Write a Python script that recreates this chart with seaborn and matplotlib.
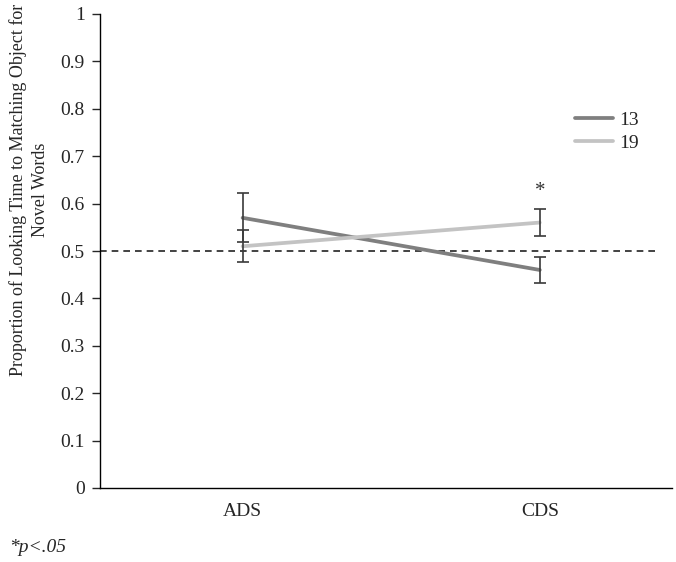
import numpy as np
import pandas as pd
import matplotlib
matplotlib.use("Agg")
import matplotlib.pyplot as plt
import seaborn as sns

# values
conditions = ["ADS", "CDS"]
age_groups = ["13", "19"]
means_13 = [0.57, 0.46]
means_19 = [0.51, 0.56]
err_13 = [0.052, 0.027]
err_19 = [0.034, 0.028]
y_ticks = [0, 0.1, 0.2, 0.3, 0.4, 0.5, 0.6, 0.7, 0.8, 0.9, 1]
y_tick_labels = ["0", "0.1", "0.2", "0.3", "0.4", "0.5", "0.6", "0.7", "0.8", "0.9", "1"]

df = pd.DataFrame({
    "Condition": conditions * 2,
    "x": [0, 1] * 2,
    "Age": ["13"] * 2 + ["19"] * 2,
    "Proportion": means_13 + means_19,
    "err": err_13 + err_19,
})

sns.set_style("ticks")
plt.rcParams["font.family"] = ["Liberation Serif", "DejaVu Serif"]
plt.rcParams["font.size"] = 13

fig = plt.figure(figsize=(6.76, 5.62), dpi=100)
ax = fig.add_axes([100 / 676, 74 / 562, 572 / 676, 474 / 562])

palette = {"13": "#7f7f7f", "19": "#c3c3c3"}
sns.lineplot(data=df, x="x", y="Proportion", hue="Age", hue_order=age_groups,
             palette=palette, linewidth=2.7, ax=ax, legend=True)

for age in age_groups:
    sub = df[df["Age"] == age]
    ax.errorbar(sub["x"], sub["Proportion"], yerr=sub["err"], fmt="none",
                ecolor="#3a3a3a", elinewidth=1.2, capsize=4, capthick=1.2, zorder=3)

# chance line
ax.plot([-0.48, 1.39], [0.5, 0.5], linestyle=(0, (4, 3)), color="#222222", linewidth=1.2, zorder=1)

# significance marker
ax.text(1, 0.605, "*", ha="center", va="bottom", fontsize=15, color="#333333")

ax.set_xlim(-0.48, 1.445)
ax.set_ylim(0, 1)
ax.set_xticks([0, 1])
ax.set_xticklabels(conditions)
ax.tick_params(axis="x", length=0, pad=11, labelsize=14)
ax.set_yticks(y_ticks)
ax.set_yticklabels(y_tick_labels)
ax.tick_params(axis="y", length=6, width=1, labelsize=14, pad=5)
ax.set_xlabel("")
ax.set_ylabel("Proportion of Looking Time to Matching Object for\nNovel Words",
              fontsize=13, linespacing=1.4)
ax.yaxis.set_label_coords(-0.089, 0.63)
for side in ["top", "right"]:
    ax.spines[side].set_visible(False)
for side in ["left", "bottom"]:
    ax.spines[side].set_linewidth(1)
    ax.spines[side].set_color("black")

leg = ax.legend(loc="upper left", bbox_to_anchor=(0.80, 0.831), frameon=False,
                handlelength=1.95, handletextpad=0.3, labelspacing=0.25, fontsize=14)
for line in leg.get_lines():
    line.set_linewidth(2.7)

fig.text(9 / 676, 1 - 548 / 562, "*p<.05", fontsize=14, style="italic", va="center")

fig.savefig("out.png", dpi=100)
